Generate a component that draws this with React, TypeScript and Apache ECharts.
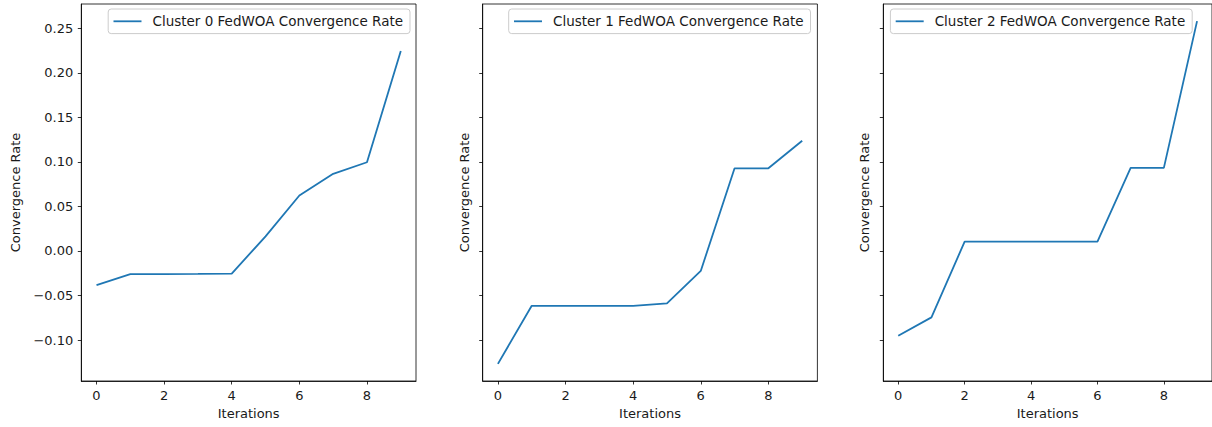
import React, { useEffect, useRef } from "react";
import * as echarts from "echarts";

const iterations = [0, 1, 2, 3, 4, 5, 6, 7, 8, 9];
const cluster0 = [-0.0384, -0.026, -0.026, -0.0258, -0.0253, 0.0164, 0.0623, 0.0866, 0.0996, 0.2245];
const cluster1 = [-0.1267, -0.0615, -0.0615, -0.0615, -0.0615, -0.0589, -0.0224, 0.0928, 0.0928, 0.1238];
const cluster2 = [-0.0951, -0.0745, 0.0105, 0.0105, 0.0105, 0.0105, 0.0105, 0.0933, 0.0933, 0.258];
const seriesNames = [
  "Cluster 0 FedWOA Convergence Rate",
  "Cluster 1 FedWOA Convergence Rate",
  "Cluster 2 FedWOA Convergence Rate",
];
const xTicks = [0, 2, 4, 6, 8];
const yTicks = [-0.1, -0.05, 0, 0.05, 0.1, 0.15, 0.2, 0.25];
const xLabel = "Iterations";
const yLabel = "Convergence Rate";

const allSeries = [cluster0, cluster1, cluster2];

const fmtY = (v: number) => {
  const r = Math.round(v * 100) / 100;
  if (r < 0) return "\u2212" + Math.abs(r).toFixed(2);
  return r.toFixed(2);
};

export default function App() {
  const ref = useRef<HTMLDivElement>(null);
  useEffect(() => {
    if (!ref.current) return;
    const chart = echarts.init(ref.current, null, { renderer: "svg" });
    const font = "DejaVu Sans";
    const textColor = "#1a1a1a";
    const gridLefts = [81.3, 482.7, 883.3];
    const gridW = 334.7;
    const legendRights = [802, 401.5, 19.8];
    const nameGaps = [59, 12, 12];

    const allVals = allSeries.flat();
    const dMin = Math.min(...allVals);
    const dMax = Math.max(...allVals);
    const pad = (dMax - dMin) * 0.05;
    const yMin = dMin - pad;
    const yMax = dMax + pad;
    const xMin = iterations[0] - (iterations[iterations.length - 1] - iterations[0]) * 0.05;
    const xMax = iterations[iterations.length - 1] + (iterations[iterations.length - 1] - iterations[0]) * 0.05;

    const grids = gridLefts.map((l) => ({
      left: l,
      top: 4,
      width: gridW,
      height: 377,
      show: true,
      borderColor: "#000",
      borderWidth: 0.8,
      backgroundColor: "transparent",
      containLabel: false,
    }));

    const xAxes = gridLefts.map((_, i) => ({
      type: "value",
      gridIndex: i,
      min: xMin,
      max: xMax,
      splitLine: { show: false },
      axisLine: { show: true, onZero: false, lineStyle: { color: "#000", width: 0.8 } },
      axisTick: { show: true, customValues: xTicks, length: 3.5, lineStyle: { color: "#000", width: 0.8 } },
      axisLabel: {
        show: true,
        customValues: xTicks,
        margin: 8,
        color: textColor,
        fontFamily: font,
        fontSize: 13,
        formatter: (v: number) => String(v),
      },
      name: xLabel,
      nameLocation: "middle",
      nameGap: 19,
      nameTextStyle: { color: textColor, fontFamily: font, fontSize: 13 },
    }));

    const yAxes = gridLefts.map((_, i) => ({
      type: "value",
      gridIndex: i,
      min: yMin,
      max: yMax,
      splitLine: { show: false },
      axisLine: { show: true, onZero: false, lineStyle: { color: "#000", width: 0.8 } },
      axisTick: { show: true, customValues: yTicks, length: 3.5, lineStyle: { color: "#000", width: 0.8 } },
      axisLabel: {
        show: i === 0,
        customValues: yTicks,
        margin: 8,
        color: textColor,
        fontFamily: font,
        fontSize: 13,
        formatter: (v: number) => fmtY(v),
      },
      name: yLabel,
      nameLocation: "middle",
      nameGap: nameGaps[i],
      nameRotate: 90,
      nameTextStyle: { color: textColor, fontFamily: font, fontSize: 13 },
    }));

    const series = allSeries.map((vals, i) => ({
      type: "line",
      name: seriesNames[i],
      xAxisIndex: i,
      yAxisIndex: i,
      data: iterations.map((x, j) => [x, vals[j]]),
      symbol: "none",
      showSymbol: false,
      lineStyle: { color: "#1f77b4", width: 1.8 },
      itemStyle: { color: "#1f77b4" },
    }));

    const legends = seriesNames.map((n, i) => ({
      data: [n],
      right: legendRights[i],
      top: 9,
      orient: "horizontal",
      icon: "rect",
      itemWidth: 28,
      itemHeight: 1.8,
      itemGap: 0,
      padding: [5.3, 7, 5.3, 5.3],
      borderColor: "#cccccc",
      borderWidth: 1,
      borderRadius: 3,
      backgroundColor: "rgba(255,255,255,0.8)",
      textStyle: { color: textColor, fontFamily: font, fontSize: 13.5, padding: [0, 0, 0, 6] },
      selectedMode: false,
    }));

    chart.setOption({
      animation: false,
      backgroundColor: "#fff",
      grid: grids,
      xAxis: xAxes,
      yAxis: yAxes,
      series,
      legend: legends,
    });
    return () => chart.dispose();
  }, []);
  return (
    <div
      ref={ref}
      style={{ position: "absolute", left: 0, top: 0, width: 1212, height: 427 }}
    />
  );
}
